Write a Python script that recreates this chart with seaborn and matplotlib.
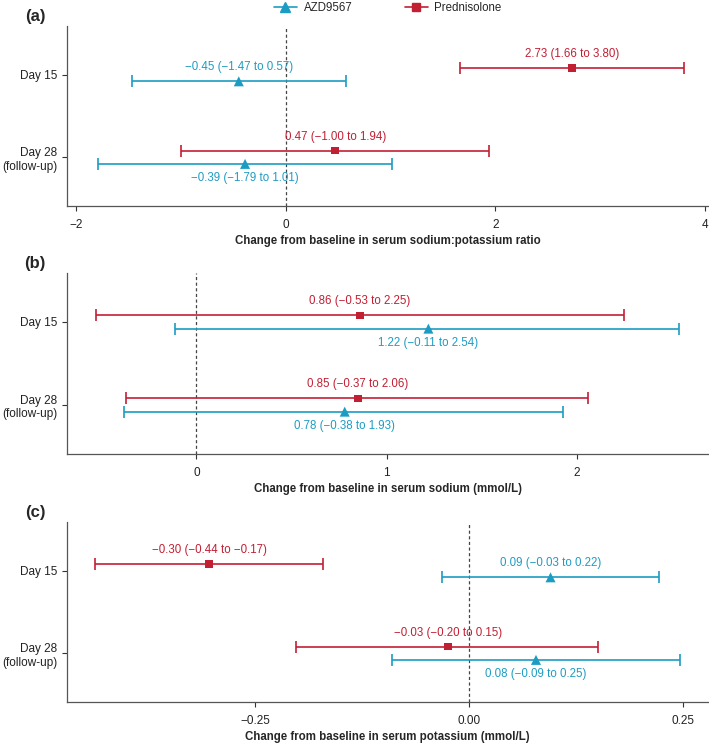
import numpy as np
import pandas as pd
import matplotlib
matplotlib.use("Agg")
import matplotlib.pyplot as plt
from matplotlib.lines import Line2D
import seaborn as sns

# --- data ---
days = ["Day 15", "Day 28\n(follow-up)"]
treatments = ["AZD9567", "Prednisolone"]

# (a) sodium:potassium ratio
ratio_azd = [-0.45, -0.39]
ratio_azd_lo = [-1.47, -1.79]
ratio_azd_hi = [0.57, 1.01]
ratio_pred = [2.73, 0.47]
ratio_pred_lo = [1.66, -1.00]
ratio_pred_hi = [3.80, 1.94]

# (b) sodium (mmol/L)
sodium_azd = [1.22, 0.78]
sodium_azd_lo = [-0.11, -0.38]
sodium_azd_hi = [2.54, 1.93]
sodium_pred = [0.86, 0.85]
sodium_pred_lo = [-0.53, -0.37]
sodium_pred_hi = [2.25, 2.06]

# (c) potassium (mmol/L)
potassium_azd = [0.095, 0.078]
potassium_azd_lo = [-0.032, -0.09]
potassium_azd_hi = [0.222, 0.246]
potassium_pred = [-0.304, -0.025]
potassium_pred_lo = [-0.437, -0.202]
potassium_pred_hi = [-0.171, 0.151]

ratio_azd_txt = ["\u22120.45 (\u22121.47 to 0.57)", "\u22120.39 (\u22121.79 to 1.01)"]
ratio_pred_txt = ["2.73 (1.66 to 3.80)", "0.47 (\u22121.00 to 1.94)"]
sodium_azd_txt = ["1.22 (\u22120.11 to 2.54)", "0.78 (\u22120.38 to 1.93)"]
sodium_pred_txt = ["0.86 (\u22120.53 to 2.25)", "0.85 (\u22120.37 to 2.06)"]
potassium_azd_txt = ["0.09 (\u22120.03 to 0.22)", "0.08 (\u22120.09 to 0.25)"]
potassium_pred_txt = ["\u22120.30 (\u22120.44 to \u22120.17)", "\u22120.03 (\u22120.20 to 0.15)"]

xlabels = ["Change from baseline in serum sodium:potassium ratio",
           "Change from baseline in serum sodium (mmol/L)",
           "Change from baseline in serum potassium (mmol/L)"]
panel_tags = ["(a)", "(b)", "(c)"]
xticks = [[-2, 0, 2, 4], [0, 1, 2], [-0.25, 0.0, 0.25]]
xtick_labels = [["\u22122", "0", "2", "4"], ["0", "1", "2"],
                ["\u22120.25", "0.00", "0.25"]]
xlims = [(-2.09, 4.03), (-0.68, 2.69), (-0.47, 0.279)]
# where the AZD9567 label sits (1 = above marker, -1 = below)
azd_side = [[1, -1], [-1, -1], [1, -1]]

colors = {"AZD9567": "#1d9cc3", "Prednisolone": "#c21f33"}
markers = {"AZD9567": "^", "Prednisolone": "s"}
msize = {"AZD9567": 52, "Prednisolone": 30}
offset = {"AZD9567": 0.08, "Prednisolone": -0.08}


def make_frame(azd, azd_lo, azd_hi, azd_txt, pred, pred_lo, pred_hi, pred_txt):
    rows = []
    for i, d in enumerate(days):
        rows.append(dict(day=d, idx=i + 1, treatment="AZD9567", est=azd[i],
                         lo=azd_lo[i], hi=azd_hi[i], txt=azd_txt[i]))
        rows.append(dict(day=d, idx=i + 1, treatment="Prednisolone", est=pred[i],
                         lo=pred_lo[i], hi=pred_hi[i], txt=pred_txt[i]))
    df = pd.DataFrame(rows)
    df["y"] = df["idx"] + df["treatment"].map(offset)
    return df


frames = [
    make_frame(ratio_azd, ratio_azd_lo, ratio_azd_hi, ratio_azd_txt,
               ratio_pred, ratio_pred_lo, ratio_pred_hi, ratio_pred_txt),
    make_frame(sodium_azd, sodium_azd_lo, sodium_azd_hi, sodium_azd_txt,
               sodium_pred, sodium_pred_lo, sodium_pred_hi, sodium_pred_txt),
    make_frame(potassium_azd, potassium_azd_lo, potassium_azd_hi, potassium_azd_txt,
               potassium_pred, potassium_pred_lo, potassium_pred_hi, potassium_pred_txt),
]

sns.set_style("ticks")
plt.rcParams["font.family"] = ["Liberation Sans", "DejaVu Sans"]

W, H = 709, 743
fig = plt.figure(figsize=(W / 100, H / 100), dpi=100)
# axes boxes in pixels: top, bottom
boxes = [(26, 206), (273, 454), (522, 702)]
left_px, right_px = 67, 708

for k, df in enumerate(frames):
    top, bot = boxes[k]
    ax = fig.add_axes([left_px / W, 1 - bot / H, (right_px - left_px) / W, (bot - top) / H])

    ax.axvline(0, color="#444444", linestyle=(0, (2.5, 2)), linewidth=0.9, zorder=1)

    for tr in treatments:
        sub = df[df["treatment"] == tr]
        ax.errorbar(sub["est"], sub["y"],
                    xerr=[sub["est"] - sub["lo"], sub["hi"] - sub["est"]],
                    fmt="none", ecolor=colors[tr], elinewidth=1.2,
                    capsize=4.5, capthick=1.2, zorder=2)
        sns.scatterplot(data=sub, x="est", y="y", color=colors[tr],
                        marker=markers[tr], s=msize[tr], edgecolor="none",
                        ax=ax, zorder=3, legend=False)
        for j, (_, r) in enumerate(sub.iterrows()):
            side = azd_side[k][j] if tr == "AZD9567" else 1
            ax.annotate(r["txt"], (r["est"], r["y"]), xytext=(0, 10 * side),
                        textcoords="offset points", ha="center", va="center",
                        fontsize=8.3, color=colors[tr])

    ax.set_ylim(2.59, 0.41)
    ax.set_yticks([1, 2])
    ax.set_yticklabels(days)
    ax.set_xlim(*xlims[k])
    ax.set_xticks(xticks[k])
    ax.set_xticklabels(xtick_labels[k])
    ax.set_xlabel(xlabels[k], fontsize=8.3, fontweight="bold", labelpad=3)
    ax.set_ylabel("")
    ax.tick_params(labelsize=8.5, length=3.5, width=0.8, colors="#333333",
                   labelcolor="#222222")
    ax.tick_params(axis="x", pad=5.5)
    for sp in ["left", "bottom"]:
        ax.spines[sp].set_color("#555555")
        ax.spines[sp].set_linewidth(0.9)
    sns.despine(ax=ax)

    fig.text(35 / W, 1 - (top - 9) / H, panel_tags[k], fontsize=12,
             fontweight="bold", ha="center", va="center")

handles = [Line2D([], [], color=colors[t], marker=markers[t], linewidth=1.2,
                  markersize=7 if t == "AZD9567" else 5.5) for t in treatments]
fig.legend(handles, treatments, loc="center", bbox_to_anchor=(0.547, 1 - 8 / H),
           ncol=2, frameon=False, fontsize=8.3, handlelength=2,
           columnspacing=4.5, handletextpad=0.6)

fig.savefig("out.png", dpi=100)
